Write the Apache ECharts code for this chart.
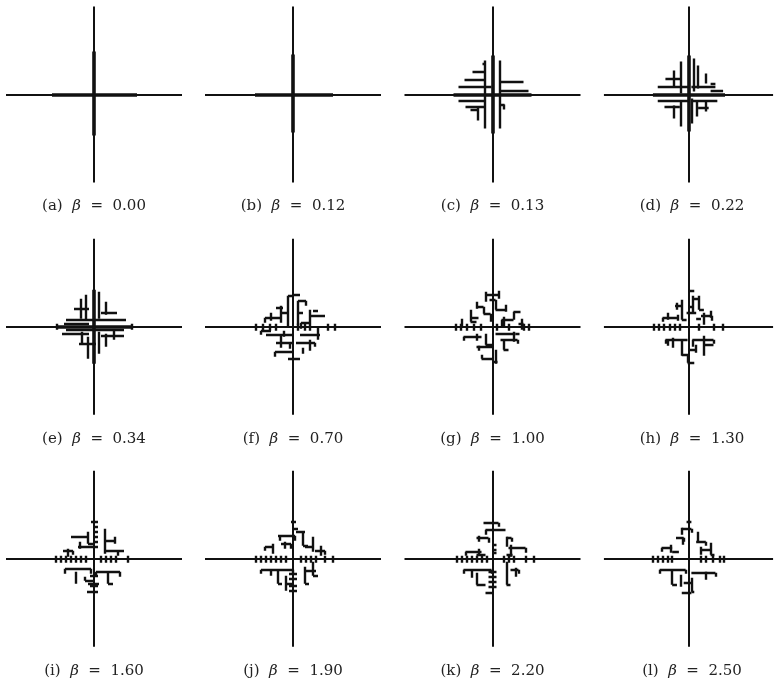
<!DOCTYPE html>
<html><head><meta charset="utf-8">
<script src="https://cdn.jsdelivr.net/npm/echarts@6/dist/echarts.min.js"></script>
<style>html,body{margin:0;padding:0;background:#fff}#c{width:775px;height:682px}</style>
</head><body><div id="c"></div>
<script>
// ---- data ----
const letters = ['a','b','c','d','e','f','g','h','i','j','k','l'];
const betas = ['0.00','0.12','0.13','0.22','0.34','0.70','1.00','1.30','1.60','1.90','2.20','2.50'];
const axisHalf = 88;
// segments: [x1, y1, x2, y2], y measured downward from the panel centre
const thickA = [[-42,0,43,0],[0,-43,0,41]];
const thickB = [[-38,0,40,0],[0,-40,0,38]];
const thickC = [[-39,0,39,0],[0,-39,0,39]];
const thickD = [[-37,0,38,0],[0,-39,0,37]];
const thickE = [[-37,0,38,0],[0,-37,0,37]];
const segA = [];
const segB = [];
const segC = [[-8,-34,-8,34],[7,-34,7,34],[-20,-23,-8,-23],[-28,-15,-8,-15],[-34,-8,-1,-8],[-10,-31,-8,-31],
  [8,-13,31,-13],[8,-4,36,-4],[-34,6,-8,6],[-27,12,-8,12],[-22,15,-15,15],[-15,12,-15,26],[7,10,12,10],[11,10,11,15]];
const segD = [[-15,-24,-15,-8],[-8,-33,-8,-1],[5,-36,5,-3],[10,-29,10,-6],[18,-21,18,-11],
  [-24,-16,-8,-16],[-32,-8,0,-8],[3,-8,28,-8],[23,-4,36,-4],[23,-11,28,-11],
  [-32,6,0,6],[-25,12,-9,12],[3,6,30,6],[10,13,21,13],
  [-15,11,-15,24],[-8,6,-8,32],[3,4,3,29],[9,6,9,22],[18,7,18,17]];
const segE = [[-20,-18,-5,-18],[7,-14,23,-14],[-28,-7,32,-7],[-30,-3,-5,-3],[-28,3,30,3],[-32,7,-5,7],[7,9,30,9],[-15,17,2,17],
  [-13,-28,-13,-8],[-8,-32,-8,-7],[5,-35,5,-8],[12,-25,12,-12],
  [-12,5,-12,18],[-6,10,-6,32],[5,5,5,27],[12,7,12,20],[20,3,20,13],[-37,-3,-37,3],[38,-3,38,3]];
const segF = [[-37,-3,-37,4],[-30,-3,-30,4],[-23,-3,-23,4],[35,-3,35,4],[42,-3,42,4],
  [-5,-31,-5,0],[5,-26,5,-2],[5,-26,13,-26],[13,-26,13,-21],[0,-32,7,-32],[-12,-21,-12,-4],[-17,-19,-10,-19],
  [-28,-9,-12,-9],[-22,-14,-22,-6],
  [17,-17,17,4],[17,-11,32,-11],[20,-16,25,-16],[8,-4,17,-4],
  [-27,8,0,8],[-32,4,-22,4],[-12,8,-12,21],[-17,16,0,16],[-18,25,0,25],
  [7,8,27,8],[25,1,25,13],[3,16,22,16],[17,13,17,24],[-5,32,7,32],[5,-3,5,4],[12,-3,12,4],
  [-5,-31,-1,-31],[5,-14,10,-14],[-12,-14,-5,-14],[-28,-9,-28,-4],[-32,4,-32,8],[-9,4,-9,10],
  [8,-4,8,2],[-3,16,-3,22],[10,21,10,27],[-18,25,-18,30],[22,16,22,20],[-17,-3,-17,4]];
const segG = [[-7,-32,6,-32],[-7,-35,-7,-25],[6,-36,6,-28],
  [3,-27,3,-17],[3,-17,13,-17],[13,-22,13,-15],
  [-16,-25,-16,-18],[-16,-20,-9,-20],[-9,-20,-9,-13],[-9,-13,-2,-13],
  [-22,-17,-22,-5],[-22,-9,-14,-9],
  [21,-15,28,-15],[21,-15,21,-7],[9,-7,21,-7],[11,-10,11,0],
  [29,-8,29,3],[26,-3,31,-3],[-31,-8,-31,0],
  [-37,-3,-37,4],[-32,-3,-32,4],[-26,-3,-26,4],[-19,-3,-19,4],[-12,-3,-12,4],[4,-3,4,4],[16,-3,16,4],[31,-3,31,4],[36,-3,36,4],
  [-29,10,-11,10],[-16,7,-16,14],[-16,20,0,20],[-14,19,-14,24],[-7,7,-7,18],
  [3,7,23,7],[21,5,21,15],[8,13,25,13],[11,13,11,23],
  [-11,32,0,32],[0,35,5,35],[3,23,3,37],
  [-3,-27,3,-27],[-2,-13,-2,-5],[9,-7,9,0],[-22,-5,-16,-5],[-7,18,0,18],[23,7,27,7],
  [11,23,16,23],[-11,28,-11,32],[-29,10,-29,14],[25,13,25,17]];
const segH = [[0,-36,6,-36],
  [4,-31,4,-14],[4,-28,11,-28],[11,-31,11,-17],
  [-14,-21,-7,-21],[-12,-24,-12,-17],[-7,-27,-7,-7],[-2,-14,8,-14],
  [-27,-9,-12,-9],[-22,-14,-22,-7],[-11,-12,-11,-6],
  [13,-11,24,-11],[16,-14,16,-2],[23,-16,23,-9],
  [-36,-3,-36,4],[-31,-3,-31,4],[-26,-3,-26,4],[-19,-3,-19,4],[-14,-3,-14,4],[-9,-3,-9,4],[11,-3,11,4],[26,-3,26,4],[36,-3,36,4],
  [-24,13,-1,13],[-22,13,-22,19],[-16,11,-16,21],[-7,13,-7,29],
  [4,13,26,13],[16,9,16,29],[16,18,26,18],
  [1,23,8,23],[8,18,8,26],[-7,28,1,28],[-1,36,6,36],
  [-7,-7,-2,-7],[0,-20,4,-20],[11,-17,16,-17],[-27,-9,-27,-5],[24,-11,24,-6],[-24,13,-24,17],
  [4,13,4,20],[26,13,26,17],[-1,28,-1,36],[8,-8,13,-8]];
const segI = [[-3,-37,4,-37],
  [0,-32,4,-32],[0,-27,4,-27],[0,-22,4,-22],[0,-17,4,-17],[0,-12,4,-12],
  [-23,-22,-6,-22],[-6,-27,-6,-15],
  [11,-30,11,-5],[11,-18,22,-18],[21,-22,21,-15],
  [-16,-12,-1,-12],[-14,-17,-14,-10],
  [11,-8,26,-8],[24,-8,24,-3],
  [-31,-8,-21,-8],[-26,-10,-26,-2],
  [-38,-3,-38,4],[-33,-3,-33,4],[-28,-3,-28,4],[-23,-3,-23,4],[-18,-3,-18,4],[-13,-3,-13,4],[-8,-3,-8,4],
  [7,-3,7,4],[12,-3,12,4],[17,-3,17,4],[22,-3,22,4],[34,-3,34,4],
  [-29,10,-3,10],[2,13,26,13],[14,13,14,25],[-18,13,-18,25],[-9,22,1,22],[-6,25,5,25],[-7,33,4,33],
  [-4,17,4,17],[-4,27,4,27],
  [-6,-15,-1,-15],[26,-8,30,-8],[-21,-8,-21,-4],[2,13,2,18],[26,13,26,18],[-29,10,-29,15],
  [-3,10,-3,15],[-9,18,-9,22],[14,25,19,25]];
const segJ = [[-2,-37,3,-37],[0,-30,5,-30],
  [-15,-23,2,-23],[-13,-23,-13,-18],
  [10,-27,10,-13],[3,-27,12,-27],[20,-22,20,-7],[12,-12,20,-12],
  [-12,-15,-2,-15],[-8,-17,-8,-10],
  [-28,-12,-20,-12],[-20,-15,-20,-5],
  [22,-8,32,-8],[28,-13,28,-3],
  [-37,-3,-37,4],[-32,-3,-32,4],[-27,-3,-27,4],[-22,-3,-22,4],[-17,-3,-17,4],[-12,-3,-12,4],[-7,-3,-7,4],
  [8,-3,8,4],[13,-3,13,4],[18,-3,18,4],[23,-3,23,4],[32,-3,32,4],[40,-3,40,4],
  [-32,11,0,11],[-22,11,-22,17],[-15,12,-15,25],[-7,17,-7,32],[-8,25,0,25],
  [12,8,12,25],[20,3,20,17],[13,12,23,12],
  [-4,15,4,15],[-4,20,4,20],[-4,27,4,27],[-4,32,4,32],
  [2,-23,2,-18],[-2,-15,-2,-10],[10,-13,15,-13],[32,-8,32,-4],[-28,-12,-28,-8],[-32,11,-32,15],
  [0,11,0,15],[12,25,16,25],[20,17,25,17],[-15,25,-11,25]];
const segK = [[-9,-36,6,-36],[-7,-29,13,-29],[-7,-29,-7,-24],
  [-16,-21,-4,-21],[-14,-23,-14,-17],
  [14,-22,14,-12],[14,-21,19,-21],
  [0,-14,4,-14],[0,-9,4,-9],[0,-6,4,-6],
  [-27,-7,-11,-7],[-14,-10,-14,-4],[-16,-4,-7,-4],
  [16,-11,33,-11],[18,-14,18,-2],[14,-4,20,-4],
  [-36,-3,-36,4],[-31,-3,-31,4],[-26,-3,-26,4],[-21,-3,-21,4],[-16,-3,-16,4],[-11,-3,-11,4],[-6,-3,-6,4],
  [11,-3,11,4],[16,-3,16,4],[21,-3,21,4],[33,-3,33,4],[41,-3,41,4],
  [-29,11,-1,11],[-21,11,-21,19],[-16,14,-16,26],[-16,26,-7,26],
  [14,3,14,26],[18,11,26,11],[23,9,23,18],
  [-4,13,4,13],[-4,18,4,18],[-4,23,4,23],[-4,28,4,28],[-7,34,1,34],
  [6,-36,6,-32],[-4,-21,-4,-16],[19,-21,19,-17],[-27,-7,-27,-3],[33,-11,33,-6],[-29,11,-29,15],
  [-1,11,-1,15],[14,26,18,26],[26,11,26,15]];
const segL = [[-2,-37,3,-37],[-7,-30,3,-30],[-7,-31,-7,-24],
  [-13,-21,-5,-21],[-6,-21,-6,-14],[10,-27,10,-17],[8,-17,18,-17],
  [-28,-11,-17,-11],[-18,-14,-18,-6],[-17,-7,-10,-7],
  [13,-9,23,-9],[23,-16,23,-4],[13,-12,13,-4],
  [-37,-3,-37,4],[-32,-3,-32,4],[-27,-3,-27,4],[-22,-3,-22,4],[-17,-3,-17,4],
  [13,-3,13,4],[18,-3,18,4],[25,-3,25,4],[32,-3,32,4],[37,-3,37,4],
  [-30,11,-3,11],[3,14,28,14],[18,13,18,21],[-17,11,-17,26],[-8,16,-8,28],
  [-5,24,3,24],[-7,34,3,34],[3,19,3,33],
  [3,-30,3,-26],[-5,-21,-5,-17],[18,-17,18,-13],[-28,-11,-28,-7],[23,-4,27,-4],[-30,11,-30,15],
  [28,14,28,18],[-3,11,-3,15],[-17,26,-12,26],[3,33,6,33]];

const segments = [segA,segB,segC,segD,segE,segF,segG,segH,segI,segJ,segK,segL];
const thicks = [thickA,thickB,thickC,thickD,thickE,[],[],[],[],[],[],[]];

// ---- layout ----
const colX = [94, 293, 492.5, 692];
const rowY = [94.5, 326.7, 558.7];
const half = 90;
const ink = '#111';

const toLines = arr => arr.map(s => ({coords: [[s[0], s[1]], [s[2], s[3]]]}));

const grids = [], xAxes = [], yAxes = [], series = [], graphics = [];
letters.forEach((L, i) => {
  const cx = colX[i % 4], cy = rowY[Math.floor(i / 4)];
  grids.push({left: cx - half, top: cy - half, width: 2 * half, height: 2 * half, containLabel: false});
  xAxes.push({gridIndex: i, type: 'value', min: -half, max: half, show: false});
  yAxes.push({gridIndex: i, type: 'value', min: -half, max: half, inverse: true, show: false});
  const common = {type: 'lines', coordinateSystem: 'cartesian2d', xAxisIndex: i, yAxisIndex: i,
    silent: true, animation: false, polyline: false};
  series.push(Object.assign({}, common, {
    data: toLines([[-axisHalf, 0, axisHalf, 0], [0, -axisHalf, 0, axisHalf]]),
    lineStyle: {color: ink, width: 2, opacity: 1, curveness: 0}
  }));
  series.push(Object.assign({}, common, {
    data: toLines(thicks[i]),
    lineStyle: {color: ink, width: 3.6, opacity: 1, curveness: 0}
  }));
  series.push(Object.assign({}, common, {
    data: toLines(segments[i]),
    lineStyle: {color: ink, width: 2.4, opacity: 1, curveness: 0}
  }));
  graphics.push({
    type: 'text', x: cx, y: cy + 112,
    style: {
      text: '{t|(' + L + ')}  {b|β}  {t|=}  {t|' + betas[i] + '}',
      align: 'center', verticalAlign: 'middle',
      rich: {
        t: {fontFamily: 'DejaVu Serif', fontSize: 15, fill: '#222'},
        b: {fontFamily: 'DejaVu Serif', fontSize: 15, fontStyle: 'italic', fill: '#222'}
      },
      fontFamily: 'DejaVu Serif', fontSize: 15, fill: '#222'
    }
  });
});

const chart = echarts.init(document.getElementById('c'), null, {renderer: 'canvas'});
chart.setOption({
  animation: false,
  backgroundColor: '#fff',
  grid: grids, xAxis: xAxes, yAxis: yAxes, series: series, graphic: graphics
});
</script></body></html>
